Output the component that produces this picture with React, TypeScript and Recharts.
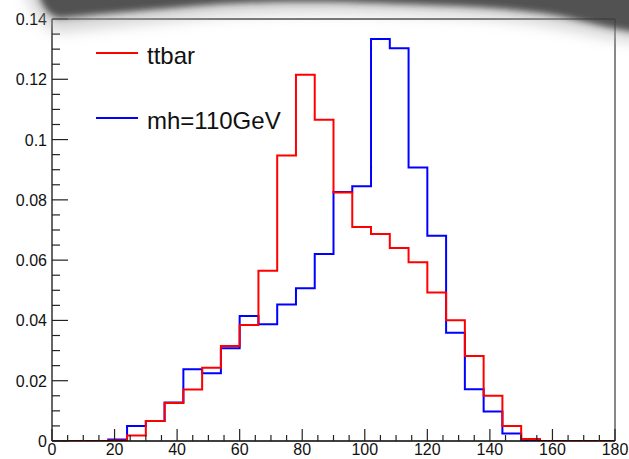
import React from 'react';
import { ComposedChart, Line, XAxis, YAxis, ReferenceLine } from 'recharts';

// bin left edges (6 GeV bins), last entry closes the histogram at 180
const binEdges = [0, 6, 12, 18, 24, 30, 36, 42, 48, 54, 60, 66, 72, 78, 84, 90, 96, 102, 108, 114, 120, 126, 132, 138, 144, 150, 156, 162, 168, 174, 180];

const ttbar = [0, 0, 0, 0.0002, 0.0018, 0.0066, 0.0126, 0.0171, 0.0243, 0.0315, 0.0385, 0.0565, 0.0947, 0.1215, 0.1066, 0.0824, 0.071, 0.0687, 0.064, 0.0593, 0.0493, 0.0401, 0.0282, 0.015, 0.005, 0.0007, 0, 0, 0, 0, 0];
const mh110 = [0, 0, 0, 0.0005, 0.005, 0.0066, 0.0128, 0.0238, 0.0225, 0.0308, 0.0415, 0.0387, 0.0453, 0.0507, 0.062, 0.0826, 0.0845, 0.1334, 0.1303, 0.0907, 0.0681, 0.0359, 0.0172, 0.0098, 0.0025, 0.0003, 0, 0, 0, 0, 0];

const xTicks = [0, 5, 10, 15, 20, 25, 30, 35, 40, 45, 50, 55, 60, 65, 70, 75, 80, 85, 90, 95, 100, 105, 110, 115, 120, 125, 130, 135, 140, 145, 150, 155, 160, 165, 170, 175, 180];
const xMajor = [0, 20, 40, 60, 80, 100, 120, 140, 160, 180];

const yTicks = [0, 0.005, 0.01, 0.015, 0.02, 0.025, 0.03, 0.035, 0.04, 0.045, 0.05, 0.055, 0.06, 0.065, 0.07, 0.075, 0.08, 0.085, 0.09, 0.095, 0.1, 0.105, 0.11, 0.115, 0.12, 0.125, 0.13, 0.135, 0.14];
const yMajor = [0, 0.02, 0.04, 0.06, 0.08, 0.1, 0.12, 0.14];
const yMajorLabels = ['0', '0.02', '0.04', '0.06', '0.08', '0.1', '0.12', '0.14'];

const legendItems = [
  { name: 'ttbar', color: '#ff0000' },
  { name: 'mh=110GeV', color: '#0000ff' },
];

const data = binEdges.map((x, i) => ({ x, ttbar: ttbar[i], mh: mh110[i] }));

const FONT = 'Liberation Sans, Arial, Helvetica, sans-serif';

function XTick(props: any) {
  const { x, y, payload } = props;
  const isMajor = xMajor.includes(payload.value);
  return (
    <g>
      <line x1={x} x2={x} y1={y} y2={y - (isMajor ? 12 : 6)} stroke="#222" strokeWidth={1.2} />
      {isMajor && (
        <text x={x} y={y + 14} textAnchor="middle" fontSize={16} fontFamily={FONT} fill="#111">
          {payload.value}
        </text>
      )}
    </g>
  );
}

function YTick(props: any) {
  const { x, y, payload } = props;
  const idx = yMajor.findIndex((v) => Math.abs(v - payload.value) < 1e-9);
  const isMajor = idx >= 0;
  return (
    <g>
      <line x1={x} x2={x + (isMajor ? 16 : 8)} y1={y} y2={y} stroke="#222" strokeWidth={1.2} />
      {isMajor && (
        <text x={x - 5} y={y + 6} textAnchor="end" fontSize={16} fontFamily={FONT} fill="#111">
          {yMajorLabels[idx]}
        </text>
      )}
    </g>
  );
}

export default function App() {
  return (
    <div style={{ position: 'absolute', left: 0, top: 0, width: 629, height: 459, background: '#fff', overflow: 'hidden' }}>
      <ComposedChart width={629} height={459} data={data} margin={{ top: 19, right: 14, left: 0, bottom: 0 }}>
        <XAxis
          dataKey="x"
          type="number"
          domain={[0, 180]}
          ticks={xTicks}
          interval={0}
          tickLine={false}
          tickSize={0}
          tickMargin={0}
          height={18}
          axisLine={{ stroke: '#000', strokeWidth: 1.5 }}
          tick={<XTick />}
        />
        <YAxis
          type="number"
          domain={[0, 0.14]}
          ticks={yTicks}
          interval={0}
          allowDataOverflow
          tickLine={false}
          tickSize={0}
          tickMargin={0}
          width={52}
          axisLine={{ stroke: '#333', strokeWidth: 1.5 }}
          tick={<YTick />}
        />
        <ReferenceLine y={0.14} stroke="#444" strokeWidth={1.5} />
        <ReferenceLine x={180} stroke="#888" strokeWidth={2} />
        <Line dataKey="mh" type="stepAfter" stroke="#0000ff" strokeWidth={2} dot={false} isAnimationActive={false} />
        <Line dataKey="ttbar" type="stepAfter" stroke="#ff0000" strokeWidth={2} dot={false} isAnimationActive={false} />
      </ComposedChart>

      {/* legend, drawn in the upper left like the ROOT TLegend */}
      <div style={{ position: 'absolute', left: 96, top: 42, fontFamily: FONT }}>
        {legendItems.map((it, i) => (
          <div key={it.name} style={{ display: 'flex', alignItems: 'center', height: 28, marginBottom: i === 0 ? 37 : 0 }}>
            <div style={{ width: 42, height: 2, background: it.color, marginRight: 9, marginTop: -6 }} />
            <span style={{ fontSize: 24, color: '#111', lineHeight: '28px' }}>{it.name}</span>
          </div>
        ))}
      </div>

      {/* the grey smear along the top edge of the screenshot */}
      <svg width={629} height={459} style={{ position: 'absolute', left: 0, top: 0, pointerEvents: 'none' }}>
        <defs>
          <filter id="smear" x="-10%" y="-50%" width="120%" height="200%">
            <feGaussianBlur stdDeviation="7" />
          </filter>
          <filter id="smear2" x="-10%" y="-50%" width="120%" height="200%">
            <feGaussianBlur stdDeviation="3" />
          </filter>
        </defs>
        <path
          d="M20,-20 L650,-20 L650,44 C615,40 590,34 560,28 C520,20 470,16 400,14 C330,12 280,12 220,16 C160,22 100,28 60,32 C45,30 32,14 20,-20 Z"
          fill="#aaa"
          opacity={0.5}
          filter="url(#smear)"
        />
        <path
          d="M35,-20 L650,-20 L650,34 C615,30 595,24 560,16 C520,9 470,6 400,4 C330,1 280,1 220,4 C160,9 100,14 60,18 C48,16 40,6 35,-20 Z"
          fill="#333"
          opacity={0.8}
          filter="url(#smear2)"
        />
      </svg>
    </div>
  );
}
